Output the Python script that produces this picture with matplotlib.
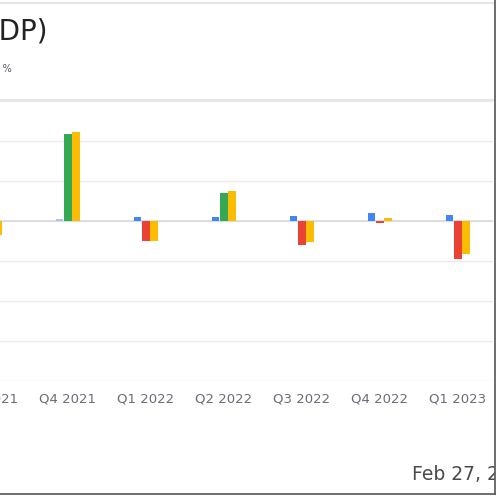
import matplotlib.pyplot as plt
from matplotlib.lines import Line2D
from matplotlib.patches import Rectangle
import numpy as np

quarters = ["Q3 2021", "Q4 2021", "Q1 2022", "Q2 2022", "Q3 2022", "Q4 2022", "Q1 2023"]
blue_vals = [0.0, 1.0, 2.0, 2.0, 2.5, 4.0, 3.0]
actual_vals = [-5.0, 43.5, -10.0, 14.0, -12.0, -1.0, -19.0]
yellow_vals = [-7.0, 44.5, -10.0, 15.0, -10.5, 1.5, -16.5]
blue_colors = ["#4285F4", "#aac4f8", "#4285F4", "#4285F4", "#4285F4", "#4285F4", "#4285F4"]

fig = plt.figure(figsize=(5, 5), dpi=100)
ax = fig.add_axes([-0.114, 0.238, 1.1, 0.56])

x = np.arange(len(quarters))
w = 0.095
act_colors = ["#34A853" if v >= 0 else "#EA4335" for v in actual_vals]
ax.bar(x - 0.11, blue_vals, w * 0.9, color=blue_colors, zorder=3)
ax.bar(x, actual_vals, w, color=act_colors, zorder=3)
ax.bar(x + 0.105, yellow_vals, w, color="#FBBC04", zorder=3)

ax.set_xlim(-0.6, 6.45)
ax.set_ylim(-80, 60)
ax.set_yticks(np.arange(-80, 61, 20))
ax.yaxis.grid(True, color="#ebebeb", linewidth=1)
ax.axhline(0, color="#d8d8e0", linewidth=1.2, zorder=2)
ax.tick_params(axis="y", left=False, labelleft=False)
ax.tick_params(axis="x", length=0, pad=8, labelsize=9.5, labelcolor="#6b6b78")
ax.set_xticks(x)
ax.set_xticklabels(quarters)
for s in ax.spines.values():
    s.set_visible(False)

fig.text(0.096, 0.937, "Earnings Surprise (KDP)", ha="right", va="center",
         fontsize=20, color="#222222")
fig.text(0.024, 0.862, "Surprise %", ha="right", va="center",
         fontsize=7, color="#555566")
fig.text(0.824, 0.05, "Feb 27, 2024", ha="left", va="center",
         fontsize=13.5, color="#4a4a4a")

# mask beyond the right frame edge
fig.add_artist(Rectangle((0.99, 0), 0.02, 1, color="white", zorder=10))
fig.add_artist(Line2D([0, 1], [0.994, 0.994], color="#e6e6e6", linewidth=1.5))
fig.add_artist(Line2D([0, 1], [0.8, 0.8], color="#e6e6e6", linewidth=1.5))
fig.add_artist(Line2D([0, 0.99], [0.012, 0.012], color="#555555", linewidth=1.2, zorder=11))
fig.add_artist(Line2D([0.99, 0.99], [0.012, 1], color="#555555", linewidth=1.2, zorder=11))

fig.savefig("out.png", dpi=100)
